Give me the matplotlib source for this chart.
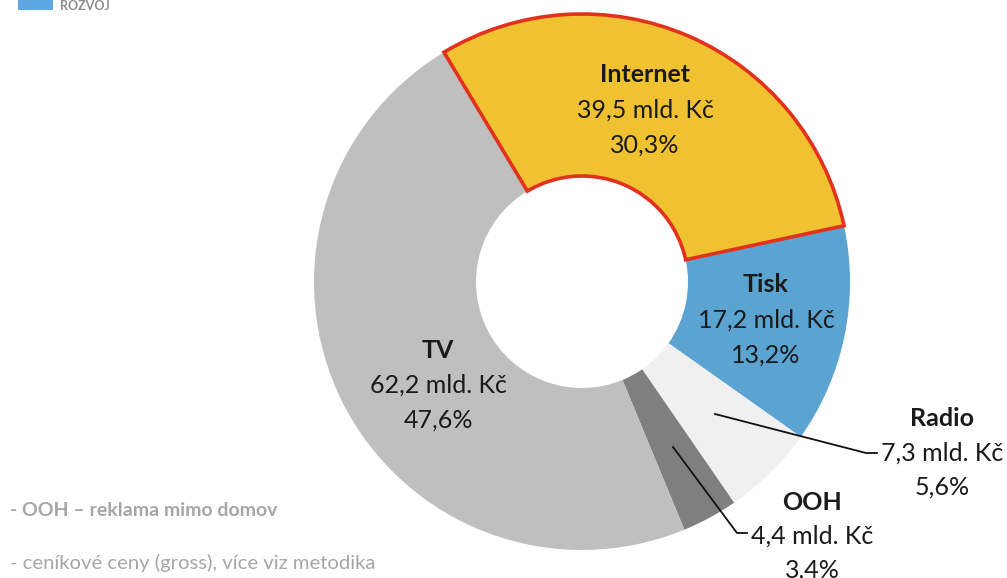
import matplotlib
matplotlib.use("Agg")
import matplotlib.pyplot as plt
from matplotlib.patches import Rectangle

plt.rcParams['font.family'] = ['Lato', 'DejaVu Sans']

# Ad spend by media type (bn CZK), gross list prices
media = ['Internet', 'Tisk', 'Radio', 'OOH', 'TV']
spend = [39.5, 17.2, 7.3, 4.4, 62.2]
spend_txt = ['39,5 mld. Kč', '17,2 mld. Kč', '7,3 mld. Kč', '4,4 mld. Kč', '62,2 mld. Kč']
share_txt = ['30,3%', '13,2%', '5,6%', '3,4%', '47,6%']
colors = ['#F0C232', '#5BA4D1', '#F0F0F0', '#7F7F7F', '#BFBFBF']

notes = ['- OOH – reklama mimo domov', '- ceníkové ceny (gross), více viz metodika']

W, H = 1007, 578
fig = plt.figure(figsize=(W / 100, H / 100), dpi=100)
ax = fig.add_axes([0, 0, 1, 1])

cx, cy, R = 582, H - 282, 268
hole = 106

wedges, _ = ax.pie(spend, colors=colors, startangle=121, counterclock=False,
                   center=(cx, cy), radius=R, frame=True,
                   wedgeprops=dict(width=R - hole, linewidth=0))
ax.set_xlim(0, W)
ax.set_ylim(0, H)
ax.axis('off')

# highlight Internet slice
wedges[0].set_edgecolor('#E2311D')
wedges[0].set_linewidth(2.6)
wedges[0].set_zorder(3)

FS = 18
TXT = '#1A1A1A'

def label(i, x, y, gap=35):
    ax.text(x, H - y, media[i], ha='center', va='center', fontsize=FS,
            fontweight='bold', color=TXT, zorder=5)
    ax.text(x, H - y - gap, spend_txt[i], ha='center', va='center',
            fontsize=FS, color=TXT, zorder=5)
    ax.text(x, H - y - 2 * gap, share_txt[i], ha='center', va='center',
            fontsize=FS, color=TXT, zorder=5)

label(0, 645, 75)
label(1, 766, 285)
label(4, 438, 350)
label(2, 942, 419, gap=34)
label(3, 812, 502, gap=34)

# leader lines for the thin slices
ax.plot([715, 866, 877], [H - 414, H - 453, H - 453], color='#111111',
        lw=1.3, zorder=4)
ax.plot([673, 737, 747], [H - 447, H - 533, H - 533], color='#111111',
        lw=1.3, zorder=4)

# footnotes
ax.text(10, H - 510, notes[0], ha='left', va='center', fontsize=14,
        fontweight='bold', color='#A6A6A6')
ax.text(10, H - 563, notes[1], ha='left', va='center', fontsize=14.6,
        color='#A6A6A6')

# logo fragment top-left
ax.add_patch(Rectangle((18, H - 10), 35, 12, color='#5DA7E2', lw=0))
ax.text(60, H - 6, 'ROZVOJ', ha='left', va='center', fontsize=9,
        fontweight='bold', color='#8C8C8C')

fig.savefig('out.png', dpi=100)
